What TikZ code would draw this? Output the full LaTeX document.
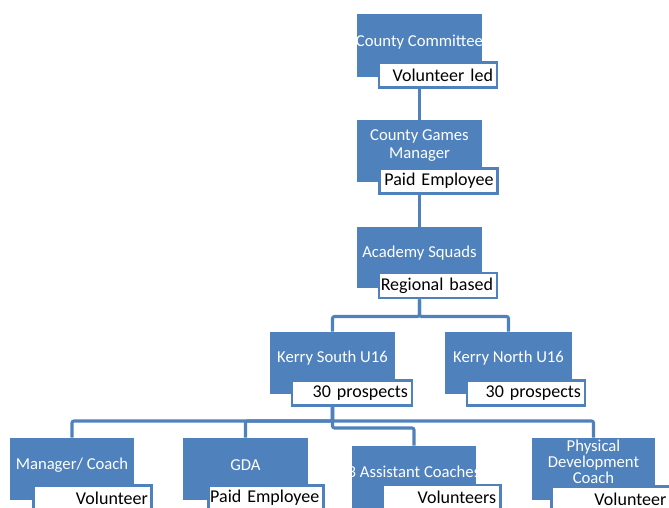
\documentclass[tikz,border=0pt]{standalone}
\usepackage{fontspec}
\setmainfont{Carlito}
\definecolor{ablue}{HTML}{4F81BD}
\newcommand{\boxfont}{\fontsize{12.5}{13.5}\selectfont}
\newcommand{\tagfont}{\fontsize{13.5}{15}\selectfont}
% right-set caption text on one line inside a tag
\newcommand{\tg}[1]{\makebox[\linewidth][r]{#1}}
\tikzset{
  box/.style={fill=ablue, draw=none, inner sep=0pt,
    minimum width=#1*0.75pt, minimum height=62*0.75pt},
  box/.default=125,
  boxtext/.style={text=white, font=\boxfont, align=center, inner sep=0pt},
  tag/.style={draw=ablue, line width=2.2pt, fill=white, inner xsep=3pt,
    inner ysep=0pt, minimum height=25*0.75pt, text width=#1,
    font=\tagfont},
  tag/.default=82.5pt,
  link/.style={draw=ablue, line width=2.3pt, rounded corners=1.5pt}
}
\begin{document}
\begin{tikzpicture}[x=0.75pt,y=-0.75pt]
\useasboundingbox (0,0) rectangle (669,508);
\clip (0,0) rectangle (669,508);

% top of the chain
\node[box, minimum height=63*0.75pt] (cc) at (419.5,45.5) {};
\node[boxtext] (cct) at (419.5,42) {County Committee};
\node[tag] (ccl) at (438,75) {\tg{Volunteer led}};

\node[box] (cgm) at (419.5,151) {};
\node[boxtext] (cgmt) at (419.5,146) {County Games\\Manager};
\node[tag] (cgml) at (438.5,181) {\tg{Paid Employee}};

\node[box, minimum height=61*0.75pt] (as) at (419.5,257.5) {};
\node[boxtext] (ast) at (419.5,253) {Academy Squads};
\node[tag] (asl) at (438,285.5) {\tg{Regional based}};

% regional squads
\node[box] (ks) at (332.5,363) {};
\node[boxtext] (kst) at (332.5,358) {Kerry South U16};
\node[tag=84pt] (ksl) at (352,393) {\tg{30 prospects}};

\node[box=127] (kn) at (508.5,363) {};
\node[boxtext] (knt) at (508.5,358) {Kerry North U16};
\node[tag] (knl) at (526,393) {\tg{30 prospects}};

% coaching staff
\node[box=124] (mc) at (72,469) {};
\node[boxtext] (mct) at (72,465) {Manager/ Coach};
\node[tag=83pt] (mcl) at (92.5,498) {\tg{Volunteer}};

\node[box] (gda) at (245.5,469) {};
\node[boxtext] (gdat) at (245.5,465) {GDA};
\node[tag=80pt] (gdal) at (266,498) {\tg{Paid Employee}};

\node[box=124] (ac) at (414,477) {};
\node[boxtext] (act) at (414,472) {3 Assistant Coaches};
\node[tag=82pt] (acl) at (441.5,497.5) {\tg{Volunteers}};

\node[box=123] (pd) at (593.5,469) {};
\node[boxtext, font=\fontsize{12.5}{12.2}\selectfont] (pdt) at (593.5,462) {Physical\\Development\\Coach};
\node[tag=83pt] (pdl) at (611,499) {\tg{Volunteer}};

% connectors
\draw[link] (ccl.south -| cc) -- (cgm.north);
\draw[link] (cgml.south -| cgm) -- (as.north);
\draw[link] (asl.south -| as) -- ++(0,17) -| (ks.north);
\draw[link] (asl.south -| as) -- ++(0,17) -| (kn.north);
\draw[link] (ksl.south -| ks) -- ++(0,14) -| (mc.north);
\draw[link] (ksl.south -| ks) -- ++(0,14) -| (gda.north);
\draw[link] (ksl.south -| ks) -- ++(0,21) -| (ac.north);
\draw[link] (ksl.south -| ks) -- ++(0,14) -| (pd.north);
\end{tikzpicture}
\end{document}
